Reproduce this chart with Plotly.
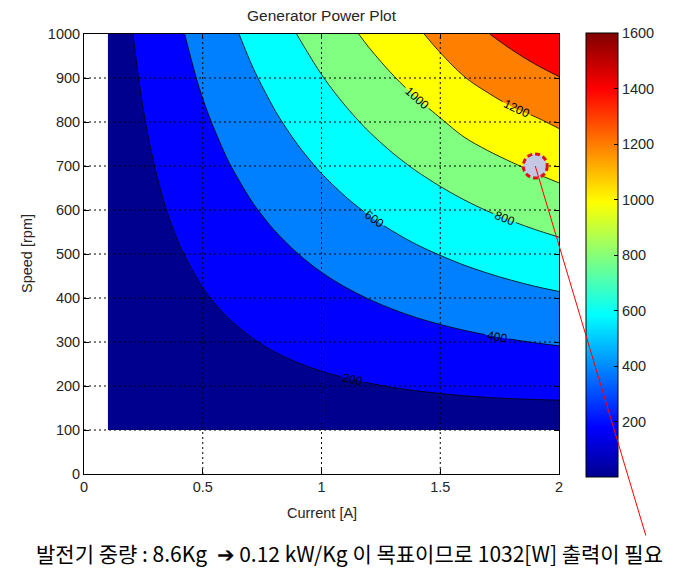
import numpy as np
import plotly.graph_objects as go

# ---------------- data ----------------
current = [0.1, 0.2, 0.3, 0.4, 0.5, 0.6, 0.7, 0.8, 0.9, 1.0,
           1.1, 1.2, 1.3, 1.4, 1.5, 1.6, 1.7, 1.8, 1.9, 2.0]
speed = [100, 200, 300, 400, 500, 600, 700, 800, 900, 1000]

# power [W] for each current (rows) over the speeds above (columns)
power_by_current = [
    [11, 21, 31, 40, 50, 59, 69, 79, 88, 98],
    [22, 41, 60, 79, 98, 117, 136, 156, 175, 194],
    [32, 60, 89, 117, 145, 174, 202, 231, 259, 287],
    [41, 79, 116, 154, 191, 229, 266, 304, 341, 379],
    [50, 96, 143, 189, 236, 282, 329, 375, 422, 468],
    [57, 113, 168, 223, 279, 334, 389, 444, 500, 555],
    [64, 128, 192, 256, 320, 384, 448, 512, 576, 640],
    [71, 143, 216, 288, 360, 433, 505, 578, 650, 723],
    [76, 157, 238, 319, 399, 480, 561, 642, 723, 804],
    [81, 170, 259, 348, 437, 526, 615, 704, 793, 882],
    [85, 182, 279, 376, 473, 570, 667, 764, 861, 958],
    [89, 193, 298, 403, 508, 613, 718, 823, 928, 1032],
    [91, 204, 316, 429, 542, 654, 767, 879, 992, 1104],
    [93, 213, 333, 454, 574, 694, 814, 934, 1054, 1174],
    [94, 222, 349, 477, 604, 732, 859, 987, 1125, 1255],
    [95, 230, 364, 499, 634, 769, 903, 1050, 1195, 1330],
    [95, 237, 378, 520, 662, 804, 946, 1100, 1250, 1395],
    [94, 243, 391, 540, 689, 837, 986, 1145, 1300, 1455],
    [92, 248, 403, 559, 714, 869, 1025, 1180, 1350, 1510],
    [90, 252, 414, 576, 738, 900, 1062, 1224, 1395, 1548],
]

level_start, level_end, level_step = 200, 1400, 200
color_min, color_max = 0, 1600
colorbar_ticks = [200, 400, 600, 800, 1000, 1200, 1400, 1600]
x_ticks = [0, 0.5, 1, 1.5, 2]
y_ticks = [0, 100, 200, 300, 400, 500, 600, 700, 800, 900, 1000]

target_current = [1.9]
target_speed = [700]

title_text = "Generator Power Plot"
x_title = "Current [A]"
y_title = "Speed [rpm]"
note_text = "발전기 중량 : 8.6Kg  ➔ 0.12 kW/Kg 이 목표이므로 1032[W] 출력이 필요"

# ---------------- styling ----------------
band_colors = ["rgb(0,0,143)", "rgb(0,0,255)", "rgb(0,128,255)", "rgb(0,255,255)",
               "rgb(128,255,128)", "rgb(255,255,0)", "rgb(255,128,0)", "rgb(255,0,0)"]
nb = len(band_colors)
band_scale = []
for i, c in enumerate(band_colors):
    band_scale.append([i / nb, c])
    band_scale.append([(i + 1) / nb, c])

jet_scale = [[0.0, "rgb(0,0,143)"], [7 / 63, "rgb(0,0,255)"], [23 / 63, "rgb(0,255,255)"],
             [39 / 63, "rgb(255,255,0)"], [55 / 63, "rgb(255,0,0)"], [1.0, "rgb(128,0,0)"]]

FONT = "Liberation Sans, Arial, sans-serif"
TXT = "#262626"

z = np.array(power_by_current).T.tolist()

fig = go.Figure()

# hidden heatmap only to provide the continuous jet colorbar
fig.add_trace(go.Heatmap(
    x=current[9:11], y=speed[4:5], z=[[color_min, color_max]],
    zmin=color_min, zmax=color_max, colorscale=jet_scale, showscale=True,
    hoverinfo="skip",
    colorbar=dict(
        x=(586 - 84) / 475, xanchor="left", xpad=0, ypad=0,
        y=(474 - 255) / 440, yanchor="middle",
        thickness=32, len=444, lenmode="pixels",
        outlinewidth=1, outlinecolor="black",
        tickvals=colorbar_ticks, ticks="inside", ticklen=4, tickcolor="black",
        tickfont=dict(family=FONT, size=14.5, color=TXT),
    ),
))

fig.add_trace(go.Contour(
    x=current, y=speed, z=z,
    zmin=color_min, zmax=color_max, zauto=False,
    colorscale=band_scale, showscale=False,
    autocontour=False,
    contours=dict(start=level_start, end=level_end, size=level_step,
                  coloring="fill", showlabels=True,
                  labelfont=dict(family=FONT, size=12, color="black")),
    line=dict(color="black", width=0.8, smoothing=1.0),
    hoverinfo="skip",
))

# dotted grid drawn above the filled contours (MATLAB style)
shapes = []
grid_line = dict(color="black", width=1, dash="2px,3px")
for t in x_ticks[1:-1]:
    shapes.append(dict(type="line", xref="x", yref="y", x0=t, x1=t,
                       y0=y_ticks[0], y1=y_ticks[-1], layer="above", line=grid_line))
for t in y_ticks[1:-1]:
    shapes.append(dict(type="line", xref="x", yref="y", x0=x_ticks[0], x1=x_ticks[-1],
                       y0=t, y1=t, layer="above", line=grid_line))

# highlighted design point
shapes.append(dict(type="circle", xref="x", yref="y", xsizemode="pixel", ysizemode="pixel",
                   xanchor=target_current[0], yanchor=target_speed[0],
                   x0=-12, x1=12, y0=-12, y1=12, layer="above",
                   fillcolor="rgb(196,200,228)",
                   line=dict(color="rgb(220,20,20)", width=3, dash="5px,3px")))

axis_common = dict(showline=True, linecolor="black", linewidth=1, mirror="ticks",
                   ticks="inside", ticklen=5, tickcolor="black", showgrid=False,
                   zeroline=False, tickfont=dict(family=FONT, size=14.5, color=TXT))

fig.update_layout(
    width=682, height=574,
    margin=dict(l=84, r=123, t=34, b=100),
    paper_bgcolor="white", plot_bgcolor="white",
    showlegend=False,
    title=dict(text=title_text, x=0.5, xref="paper", xanchor="center",
               y=1 - 16 / 574, yref="container", yanchor="middle",
               font=dict(family=FONT, size=15.5, color=TXT)),
    xaxis=dict(range=[x_ticks[0], x_ticks[-1]], tickvals=x_ticks,
               ticktext=[f"{v:g}" for v in x_ticks], **axis_common),
    yaxis=dict(range=[y_ticks[0], y_ticks[-1]], tickvals=y_ticks, **axis_common),
    shapes=shapes,
    annotations=[
        dict(text=x_title, xref="paper", yref="paper", x=0.5, y=-(513 - 474) / 440,
             xanchor="center", yanchor="middle", showarrow=False,
             font=dict(family=FONT, size=14.5, color=TXT)),
        dict(text=y_title, xref="paper", yref="paper", x=(27 - 84) / 475, y=0.5,
             xanchor="center", yanchor="middle", textangle=-90, showarrow=False,
             font=dict(family=FONT, size=14.5, color=TXT)),
        dict(text=note_text, xref="paper", yref="paper", x=(349 - 84) / 475,
             y=-(553 - 474) / 440, xanchor="center", yanchor="middle", showarrow=False,
             font=dict(family="Noto Sans CJK KR, sans-serif", size=21, color="black")),
        dict(text="", x=target_current[0], y=target_speed[0], xref="x", yref="y",
             showarrow=True, arrowhead=0, arrowwidth=1, arrowcolor="red",
             ax=111, ay=371, standoff=0, startstandoff=0),
    ],
)

fig.write_html("out.html")
